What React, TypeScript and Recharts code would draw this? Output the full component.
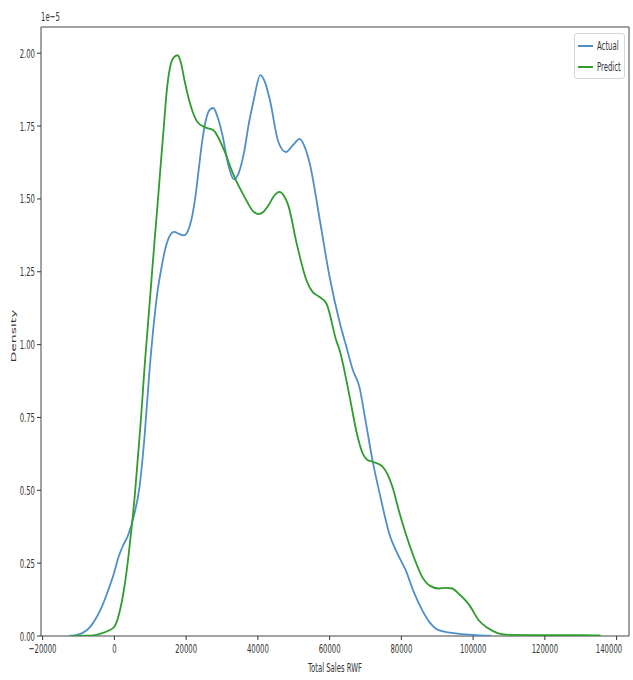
import { LineChart, Line, XAxis, YAxis, ReferenceArea } from 'recharts';

// Kernel density estimates of total sales (RWF), density in units of 1e-5
const actualX = [
  -12800, -11000, -9100, -7200, -5400, -3500, -1700, 0, 1000, 2400, 3800, 5600, 7000,
  8400, 9800, 11100, 12000, 13000, 14200, 15300, 16700, 18000, 19400, 20500, 21500,
  22500, 23500, 24500, 25500, 26500, 27600, 28800, 30100, 31700, 33300, 34700, 36100,
  37500, 38800, 40700, 42000, 43400, 45700, 47800, 49800, 51700, 53000, 54500, 57300,
  60000, 62800, 64500, 66500, 68300, 70000, 72000, 74300, 76600, 79000, 81200, 83500,
  85800, 88000, 90400, 95000, 100000, 105000,
];
const actualY = [
  0, 0.002, 0.009, 0.025, 0.055, 0.1, 0.158, 0.22, 0.265, 0.31, 0.345, 0.42, 0.51,
  0.683, 0.912, 1.084, 1.18, 1.255, 1.33, 1.37, 1.387, 1.38, 1.375, 1.39, 1.43,
  1.5, 1.6, 1.7, 1.77, 1.805, 1.812, 1.78, 1.72, 1.62, 1.567, 1.59, 1.657,
  1.76, 1.837, 1.925, 1.9, 1.837, 1.696, 1.661, 1.685, 1.706, 1.68, 1.619, 1.425,
  1.232, 1.077, 1.0, 0.912, 0.855, 0.74, 0.6, 0.47, 0.352, 0.28, 0.226, 0.15,
  0.089, 0.045, 0.02, 0.009, 0.004, 0.001,
];

const predictX = [
  -12000, -8000, -6000, -3600, -1700, 0, 1400, 2800, 3800, 4700, 5600, 6600, 7500,
  8400, 9300, 10200, 11100, 12100, 13000, 13800, 14600, 15500, 16500, 17600, 18500,
  19500, 20400, 21800, 23100, 25400, 27700, 29000, 30500, 33300, 36500, 38500, 40200,
  41500, 42900, 44500, 46000, 47300, 48500, 50800, 53600, 55300, 56800, 59100, 61900,
  62800, 65600, 67500, 69200, 70500, 72000, 74800, 77500, 79300, 81200, 83500, 85800,
  88000, 90400, 92300, 94100, 96000, 97800, 99000, 101500, 104000, 107000, 110000,
  120000, 130000, 135500,
];
const predictY = [
  0, 0.001, 0.002, 0.009, 0.018, 0.032, 0.08, 0.169, 0.26, 0.36, 0.47, 0.62, 0.76,
  0.92, 1.06, 1.2, 1.34, 1.49, 1.63, 1.75, 1.87, 1.95, 1.985, 1.993, 1.97,
  1.91, 1.86, 1.8, 1.765, 1.745, 1.735, 1.71, 1.67, 1.58, 1.502, 1.46, 1.448,
  1.455, 1.477, 1.51, 1.524, 1.51, 1.477, 1.348, 1.219, 1.18, 1.167, 1.141, 1.012,
  0.98, 0.82, 0.7, 0.627, 0.605, 0.598, 0.58, 0.512, 0.43, 0.352, 0.27, 0.203,
  0.172, 0.163, 0.165, 0.163, 0.145, 0.123, 0.105, 0.055, 0.028, 0.009, 0.004,
  0.003, 0.003, 0.002,
];

const xTicks = [-20000, 0, 20000, 40000, 60000, 80000, 100000, 120000, 140000];
const yTicks = [0, 0.25, 0.5, 0.75, 1.0, 1.25, 1.5, 1.75, 2.0];
const seriesNames = ['Actual', 'Predict'];

const X_MIN = -20450;
const X_MAX = 143450;
const Y_MAX = 2.09;

const BLUE = '#4f8fc8';
const GREEN = '#2e9c2e';
const TEXT = '#333';
const FONT = '"DejaVu Sans", sans-serif';
const FS = 13;
// narrow glyphs: text is squeezed horizontally
const SQ = 0.53;

const actualData = actualX.map((x, i) => ({ x, y: actualY[i] }));
const predictData = predictX.map((x, i) => ({ x, y: predictY[i] }));

const fmtX = (v: number) => (v < 0 ? `\u2212${Math.abs(v)}` : `${v}`);

function XTick({ x, y, payload }: any) {
  return (
    <g transform={`translate(${x},${y})`}>
      <text transform={`scale(${SQ},1)`} textAnchor="middle" dy={11} fontSize={FS} fontFamily={FONT} fill={TEXT}>
        {fmtX(payload.value)}
      </text>
    </g>
  );
}

function YTick({ x, y, payload }: any) {
  return (
    <g transform={`translate(${x},${y})`}>
      <text transform={`scale(${SQ},1)`} textAnchor="end" dy={4.5} fontSize={FS} fontFamily={FONT} fill={TEXT}>
        {payload.value.toFixed(2)}
      </text>
    </g>
  );
}

function XLabel({ viewBox }: any) {
  const cx = viewBox.x + viewBox.width / 2;
  return (
    <g transform={`translate(${cx},${viewBox.y + 36})`}>
      <text transform={`scale(${SQ},1)`} textAnchor="middle" fontSize={FS} fontFamily={FONT} fill={TEXT}>
        Total Sales RWF
      </text>
    </g>
  );
}

function YLabel() {
  return (
    <g transform={`translate(16,336) scale(${SQ},1) rotate(-90)`}>
      <text textAnchor="middle" fontSize={14} fontFamily={FONT} fill={TEXT}>
        Density
      </text>
    </g>
  );
}

export default function App() {
  return (
    <div style={{ position: 'absolute', left: 0, top: 0, width: 633, height: 680, background: '#fff' }}>
      <LineChart width={633} height={680} margin={{ top: 27, right: 4, bottom: 0, left: 0 }}>
        <XAxis
          dataKey="x"
          type="number"
          domain={[X_MIN, X_MAX]}
          ticks={xTicks}
          allowDataOverflow
          height={44}
          axisLine={false}
          tickLine={{ stroke: TEXT }}
          tickSize={4}
          tick={<XTick />}
          label={<XLabel />}
        />
        <YAxis
          type="number"
          domain={[0, Y_MAX]}
          ticks={yTicks}
          allowDataOverflow
          width={41}
          axisLine={false}
          tickLine={{ stroke: TEXT }}
          tickSize={4}
          tick={<YTick />}
          label={<YLabel />}
        />
        <ReferenceArea x1={X_MIN} x2={X_MAX} y1={0} y2={Y_MAX} fill="none" stroke="#444" strokeWidth={1} />
        <Line
          data={actualData}
          dataKey="y"
          name={seriesNames[0]}
          type="monotone"
          stroke={BLUE}
          strokeWidth={1.8}
          dot={false}
          isAnimationActive={false}
        />
        <Line
          data={predictData}
          dataKey="y"
          name={seriesNames[1]}
          type="monotone"
          stroke={GREEN}
          strokeWidth={1.8}
          dot={false}
          isAnimationActive={false}
        />
      </LineChart>
      <div
        style={{
          position: 'absolute',
          left: 41,
          top: 9,
          fontSize: FS,
          fontFamily: FONT,
          color: TEXT,
          transform: `scaleX(${SQ})`,
          transformOrigin: 'left top',
          whiteSpace: 'nowrap',
        }}
      >
        1e{'\u2212'}5
      </div>
      <div
        style={{
          position: 'absolute',
          left: 574,
          top: 33,
          width: 51,
          height: 46,
          border: '1px solid #d6d6d6',
          borderRadius: 3,
          background: '#fff',
          boxSizing: 'border-box',
          fontSize: FS,
          fontFamily: FONT,
          color: TEXT,
          padding: '1px 0 0 3px',
        }}
      >
        {seriesNames.map((name, i) => (
          <div key={name} style={{ display: 'flex', alignItems: 'center', height: 21, whiteSpace: 'nowrap' }}>
            <span style={{ display: 'inline-block', width: 15, height: 2, background: i === 0 ? BLUE : GREEN, marginRight: 4, flexShrink: 0 }} />
            <span style={{ display: 'inline-block', transform: `scaleX(${SQ})`, transformOrigin: 'left center' }}>{name}</span>
          </div>
        ))}
      </div>
    </div>
  );
}
